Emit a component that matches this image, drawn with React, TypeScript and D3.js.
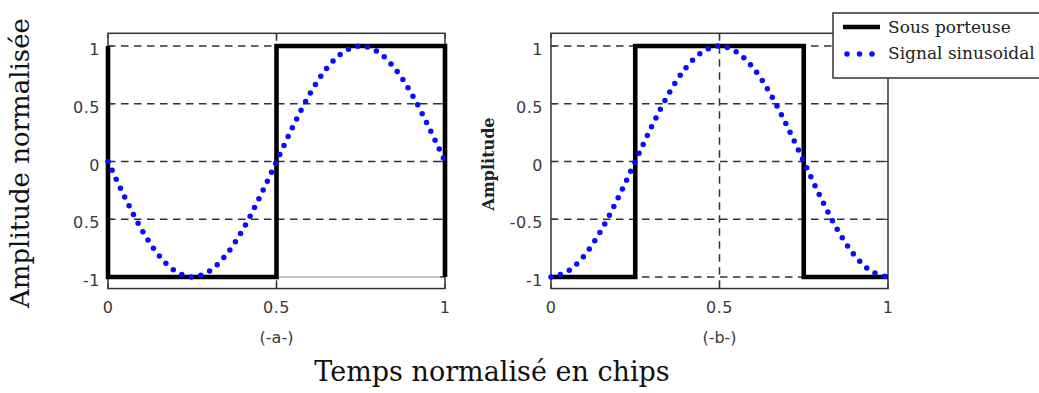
import React from "react";
import * as d3 from "d3";

// Normalised time samples (chips) and the two signals of each panel
const timeSamples = [0, 0.05, 0.1, 0.15, 0.2, 0.25, 0.3, 0.35, 0.4, 0.45, 0.5, 0.55, 0.6, 0.65, 0.7, 0.75, 0.8, 0.85, 0.9, 0.95, 1];
const sineA = [0, -0.31, -0.59, -0.81, -0.95, -1, -0.95, -0.81, -0.59, -0.31, 0, 0.31, 0.59, 0.81, 0.95, 1, 0.95, 0.81, 0.59, 0.31, 0];
const sineB = [-1, -0.95, -0.81, -0.59, -0.31, 0, 0.31, 0.59, 0.81, 0.95, 1, 0.95, 0.81, 0.59, 0.31, 0, -0.31, -0.59, -0.81, -0.95, -1];

const squareATimes = [0, 0, 0.5, 0.5, 1, 1];
const squareAValues = [1, -1, -1, 1, 1, -1];
const squareBTimes = [0, 0.25, 0.25, 0.75, 0.75, 1];
const squareBValues = [-1, -1, 1, 1, -1, -1];

const yTicks = [1, 0.5, 0, -0.5, -1];
const yTickLabelsA = ["1", "0.5", "0", "0.5", "-1"];
const yTickLabelsB = ["1", "0.5", "0", "-0.5", "-1"];
const xTicks = [0, 0.5, 1];
const xTickLabels = ["0", "0.5", "1"];
const seriesNames = ["Sous porteuse", "Signal sinusoidal"];
const captions = ["(-a-)", "(-b-)"];

const W = 1039;
const H = 393;
const TICK_FONT = "'DejaVu Sans', Verdana, sans-serif";
const SERIF = "'DejaVu Serif', serif";
const GRID = "#333";
const DASH = "7.5 5.5";
const BLUE = "#0a0aff";

const y = d3.scaleLinear().domain([-1.1, 1.11]).range([288.55, 33.3]);

type PanelProps = {
  left: number;
  right: number;
  sine: number[];
  sqT: number[];
  sqV: number[];
  yLabels: string[];
  caption: string;
  lastRowSolid: boolean;
};

function Panel({ left, right, sine, sqT, sqV, yLabels, caption, lastRowSolid }: PanelProps) {
  const x = d3.scaleLinear().domain([0, 1]).range([left, right]);
  const [yb, yt] = [y(-1.1), y(1.11)];
  const sineLine = d3
    .line<number>()
    .x((_, i) => x(timeSamples[i]))
    .y((d) => y(d))
    .curve(d3.curveCatmullRom.alpha(0.5));
  const sqLine = d3
    .line<number>()
    .x((_, i) => x(sqT[i]))
    .y((d) => y(d));
  const tickLen = 5;
  return (
    <g>
      {/* horizontal grid */}
      {yTicks.map((t, i) => {
        const solid = lastRowSolid && t === -1;
        return (
          <line
            key={"gy" + i}
            x1={x(0)}
            x2={x(1)}
            y1={y(t)}
            y2={y(t)}
            stroke={solid ? "#8a8a8a" : GRID}
            strokeWidth={solid ? 1 : 1.5}
            strokeDasharray={solid ? undefined : DASH}
          />
        );
      })}
      {/* vertical grid at the middle tick */}
      <line x1={x(0.5)} x2={x(0.5)} y1={yt} y2={yb} stroke={GRID} strokeWidth={1.5} strokeDasharray={DASH} />
      {/* axes box */}
      <rect x={x(0)} y={yt} width={x(1) - x(0)} height={yb - yt} fill="none" stroke="#333" strokeWidth={1.5} />
      {/* inward ticks on all sides */}
      {yTicks.map((t, i) => (
        <g key={"ty" + i} stroke="#333" strokeWidth={1.2}>
          <line x1={x(0)} x2={x(0) + tickLen} y1={y(t)} y2={y(t)} />
          <line x1={x(1)} x2={x(1) - tickLen} y1={y(t)} y2={y(t)} />
        </g>
      ))}
      {xTicks.map((t, i) => (
        <g key={"tx" + i} stroke="#333" strokeWidth={1.2}>
          <line x1={x(t)} x2={x(t)} y1={yb} y2={yb - tickLen} />
          <line x1={x(t)} x2={x(t)} y1={yt} y2={yt + tickLen} />
        </g>
      ))}
      {/* tick labels */}
      {yTicks.map((t, i) => (
        <text
          key={"ly" + i}
          x={x(0) - 8}
          y={y(t) + 9}
          textAnchor="end"
          fontFamily={TICK_FONT}
          fontSize={16}
          fill="#3a3a3a"
          letterSpacing={0.5}
        >
          {yLabels[i]}
        </text>
      ))}
      {xTicks.map((t, i) => (
        <text
          key={"lx" + i}
          x={x(t)}
          y={313}
          textAnchor="middle"
          fontFamily={TICK_FONT}
          fontSize={16}
          fill="#3a3a3a"
          letterSpacing={0.5}
        >
          {xTickLabels[i]}
        </text>
      ))}
      <text x={x(0.5)} y={343} textAnchor="middle" fontFamily={TICK_FONT} fontSize={16} fill="#3a3a3a">
        {caption}
      </text>
      {/* square sub-carrier */}
      <path d={sqLine(sqV) || ""} fill="none" stroke="#000" strokeWidth={4.6} strokeLinejoin="miter" />
      {/* sinusoidal signal, dotted */}
      <path
        d={sineLine(sine) || ""}
        fill="none"
        stroke={BLUE}
        strokeWidth={5.5}
        strokeLinecap="round"
        strokeDasharray="0 9.8"
      />
    </g>
  );
}

export default function App() {
  return (
    <svg
      width={W}
      height={H}
      viewBox={`0 0 ${W} ${H}`}
      style={{ position: "absolute", left: 0, top: 0, background: "#fff" }}
    >
      <rect width={W} height={H} fill="#fff" />
      <Panel
        left={108}
        right={445}
        sine={sineA}
        sqT={squareATimes}
        sqV={squareAValues}
        yLabels={yTickLabelsA}
        caption={captions[0]}
        lastRowSolid={true}
      />
      <Panel
        left={551}
        right={888}
        sine={sineB}
        sqT={squareBTimes}
        sqV={squareBValues}
        yLabels={yTickLabelsB}
        caption={captions[1]}
        lastRowSolid={false}
      />
      {/* axis titles */}
      <text
        transform="translate(29,163) rotate(-90)"
        textAnchor="middle"
        fontFamily={SERIF}
        fontSize={26}
        fill="#111"
      >
        Amplitude normalisée
      </text>
      <text
        transform="translate(494,164) rotate(-90)"
        textAnchor="middle"
        fontFamily={SERIF}
        fontWeight="bold"
        fontSize={16}
        fill="#222"
      >
        Amplitude
      </text>
      <text x={492} y={381} textAnchor="middle" fontFamily={SERIF} fontSize={27} fill="#111">
        Temps normalisé en chips
      </text>
      {/* legend */}
      <g>
        <rect x={833} y={13} width={230} height={65} fill="#fff" stroke="#333" strokeWidth={1.5} />
        <line x1={843} x2={880} y1={27} y2={27} stroke="#000" strokeWidth={4.6} />
        <line
          x1={847}
          x2={874}
          y1={54}
          y2={54}
          stroke={BLUE}
          strokeWidth={5.5}
          strokeLinecap="round"
          strokeDasharray="0 12.5"
        />
        <text x={888} y={33} fontFamily={SERIF} fontSize={17} fill="#222">
          {seriesNames[0]}
        </text>
        <text x={888} y={59} fontFamily={SERIF} fontSize={17} fill="#222">
          {seriesNames[1]}
        </text>
      </g>
    </svg>
  );
}
